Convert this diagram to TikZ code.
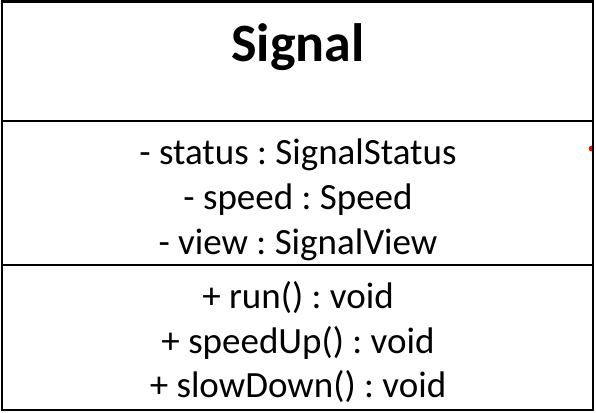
\documentclass[tikz,border=0pt]{standalone}
\usepackage{fontspec}
\setmainfont{Carlito}
\begin{document}
\frenchspacing
\begin{tikzpicture}[x=1pt,y=-1pt,line join=miter,
	member/.style={anchor=base,font=\fontsize{37}{42}\selectfont},
	classname/.style={anchor=base,font=\fontsize{54}{58}\selectfont\bfseries},
	frame/.style={line width=2.5pt}]
	\useasboundingbox (0,0) rectangle (596,412);
	\path
	(2,1.5) coordinate (NW)
	(593,1.5) coordinate (NE)
	(593,410) coordinate (SE)
	(2,410) coordinate (SW)
	(2,121) coordinate (A1)
	(593,121) coordinate (B1)
	(2,265) coordinate (A2)
	(593,265) coordinate (B2);
	% small red mark on the border
	\fill[red] (591.5,148.5) circle (2.8);
	\draw[frame] (NW)--(NE)--(SE)--(SW)--cycle;
	\draw[frame] (A1)--(B1) (A2)--(B2);
	\node[classname] (name) at (298,61) {Signal};
	\node[member] (status) at (298,164) {- status : SignalStatus};
	\node[member] (speed) at (298,209) {- speed : Speed};
	\node[member] (view) at (298,254) {- view : SignalView};
	\node[member] (run) at (298,308) {+ run() : void};
	\node[member] (speedUp) at (298,353) {+ speedUp() : void};
	\node[member] (slowDown) at (298,397) {+ slowDown() : void};
\end{tikzpicture}
\end{document}
